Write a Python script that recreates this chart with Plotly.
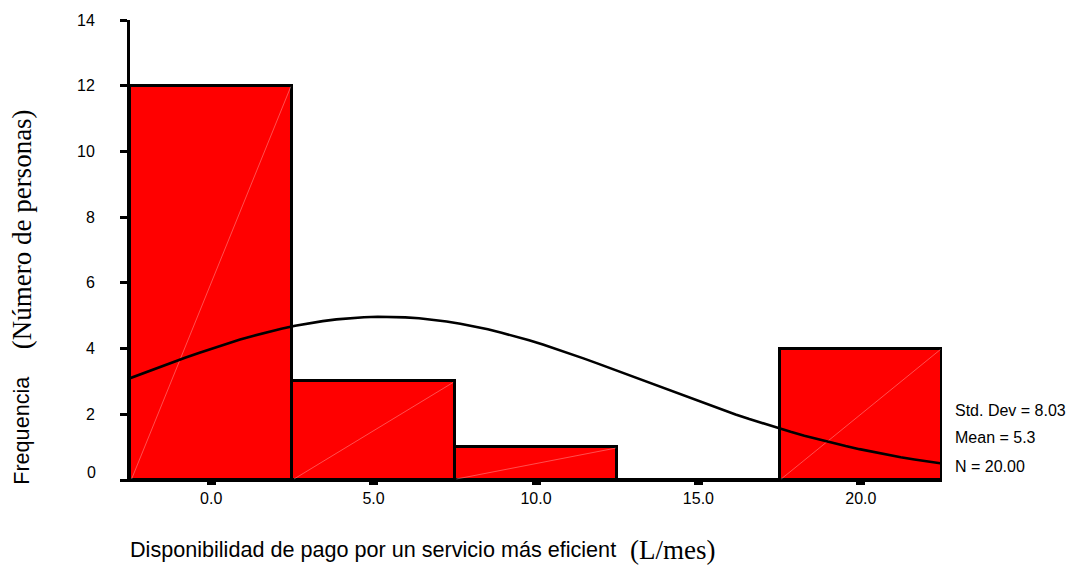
import numpy as np
import plotly.graph_objects as go

# Histogram bins (centres, width) and counts
bin_centers = [0.0, 5.0, 10.0, 15.0, 20.0]
bin_width = 5.0
counts = [12, 3, 1, 0, 4]
x_tick_labels = ["0.0", "5.0", "10.0", "15.0", "20.0"]
y_ticks = [0, 2, 4, 6, 8, 10, 12, 14]

# Summary statistics
std_dev = 8.03
mean = 5.3
n_obs = 20

x_lo = bin_centers[0] - bin_width / 2
x_hi = bin_centers[-1] + bin_width / 2

fig = go.Figure()

fig.add_trace(go.Bar(
    x=bin_centers, y=counts, width=bin_width,
    marker=dict(color="#ff0000", line=dict(color="black", width=3)),
    hoverinfo="x+y", showlegend=False,
))

# faint diagonal seams across each filled bar
for c, h in zip(bin_centers, counts):
    if h > 0:
        fig.add_trace(go.Scatter(
            x=[c - bin_width / 2 + 0.05, c + bin_width / 2 - 0.05], y=[0.03, h - 0.03],
            mode="lines", line=dict(color="rgba(255,190,190,0.7)", width=0.6),
            hoverinfo="skip", showlegend=False,
        ))

# normal curve scaled to counts
xs = np.linspace(x_lo, x_hi, 60)
ys = n_obs * bin_width / (std_dev * np.sqrt(2 * np.pi)) * np.exp(-0.5 * ((xs - mean) / std_dev) ** 2)
fig.add_trace(go.Scatter(
    x=xs, y=ys, mode="lines", line=dict(color="black", width=2.6),
    hoverinfo="skip", showlegend=False,
))

sans = "Liberation Sans, Arial, sans-serif"
serif = "Liberation Serif, Times New Roman, serif"
black = "black"

# y tick labels: the zero label is set slightly above its tick
y_tick_text = ["" if v == 0 else str(v) for v in y_ticks]

fig.update_layout(
    width=1076, height=565,
    margin=dict(l=130, r=134, t=14, b=85),
    paper_bgcolor="white", plot_bgcolor="white",
    bargap=0,
    xaxis=dict(
        range=[x_lo, x_hi], tickvals=bin_centers, ticktext=x_tick_labels,
        showgrid=False, zeroline=False, showline=True, linecolor=black, linewidth=2,
        ticks="outside", ticklen=3, tickwidth=9, tickcolor=black,
        tickfont=dict(family=sans, size=16, color=black),
    ),
    yaxis=dict(
        range=[0, 14], tickvals=y_ticks, ticktext=y_tick_text,
        showgrid=False, zeroline=False, showline=True, linecolor=black, linewidth=3,
        ticks="outside", ticklen=7, tickwidth=3, tickcolor=black,
        tickfont=dict(family=sans, size=16, color=black),
        ticklabelstandoff=22,
    ),
    annotations=[
        dict(text="0", xref="paper", yref="y", x=-0.04, y=0, yshift=8,
             xanchor="right", yanchor="middle", showarrow=False,
             font=dict(family=sans, size=16, color=black)),
        dict(text="Frequencia", xref="paper", yref="paper", x=-0.133, y=0.107,
             xanchor="center", yanchor="middle",
             textangle=-90, showarrow=False, font=dict(family=sans, size=21.6, color=black)),
        dict(text="(Número de personas)", xref="paper", yref="paper", x=-0.133, y=0.545,
             xanchor="center", yanchor="middle",
             textangle=-90, showarrow=False, font=dict(family=serif, size=27, color=black)),
        dict(text="Disponibilidad de pago por un servicio más eficient", xref="paper", yref="paper",
             x=-0.0025, y=-0.152, xanchor="left", yanchor="middle", showarrow=False,
             font=dict(family=sans, size=21.6, color=black)),
        dict(text="(L/mes)", xref="paper", yref="paper", x=0.613, y=-0.153,
             xanchor="left", yanchor="middle", showarrow=False,
             font=dict(family=serif, size=27, color=black)),
        dict(text=f"Std. Dev = {std_dev:.2f}", xref="paper", yref="paper", x=1.0135, y=0.152,
             xanchor="left", yanchor="middle", showarrow=False, font=dict(family=sans, size=16, color=black)),
        dict(text=f"Mean = {mean:.1f}", xref="paper", yref="paper", x=1.0135, y=0.092,
             xanchor="left", yanchor="middle", showarrow=False, font=dict(family=sans, size=16, color=black)),
        dict(text=f"N = {n_obs:.2f}", xref="paper", yref="paper", x=1.0135, y=0.030,
             xanchor="left", yanchor="middle", showarrow=False, font=dict(family=sans, size=16, color=black)),
    ],
)

fig.write_html("out.html")
